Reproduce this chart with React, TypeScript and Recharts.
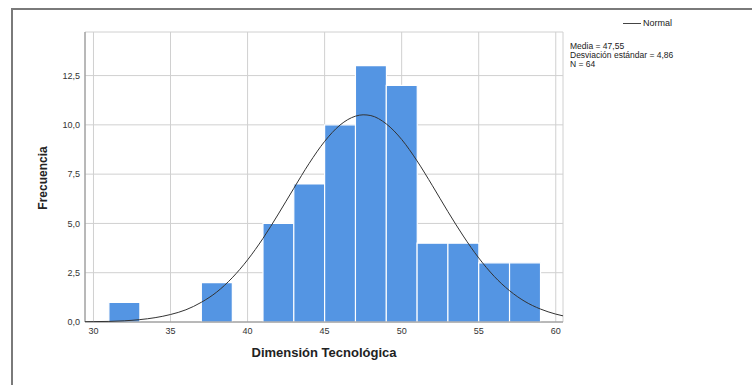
import { ComposedChart, LineChart, Bar, Line, XAxis, YAxis, CartesianGrid } from 'recharts';

// Histogram bins (width 2) – centre of each bin and its count
const binCenters = [32, 38, 42, 44, 46, 48, 50, 52, 54, 56, 58];
const frequencies = [1, 2, 5, 7, 10, 13, 12, 4, 4, 3, 3];

// Normal curve
const curveX = [29, 30, 31, 32, 33, 34, 35, 36, 37, 38, 39, 40, 41, 42, 43, 44, 45, 46, 47, 47.5, 48, 49, 50, 51, 52, 53, 54, 55, 56, 57, 58, 59, 60, 61];
const curveY = [0.01, 0.02, 0.03, 0.06, 0.12, 0.22, 0.38, 0.62, 1.0, 1.52, 2.24, 3.15, 4.24, 5.48, 6.78, 8.05, 9.16, 9.99, 10.44, 10.51, 10.47, 10.05, 9.26, 8.17, 6.91, 5.6, 4.36, 3.25, 2.32, 1.59, 1.04, 0.66, 0.4, 0.23];

const xTicks = [30, 35, 40, 45, 50, 55, 60];
const yTicks = [0, 2.5, 5, 7.5, 10, 12.5];

const statsLines = ['Media = 47,55', 'Desviación estándar = 4,86', 'N = 64'];

const histogramData = binCenters.map((x, i) => ({ x, freq: frequencies[i] }));
const normalData = curveX.map((x, i) => ({ x, normal: curveY[i] }));

const X_DOMAIN: [number, number] = [29.45, 60.47];
const Y_DOMAIN: [number, number] = [0, 14.71];

const FONT = 'Arial, "Liberation Sans", Helvetica, sans-serif';
const tickStyle = { fontSize: 9, fill: '#333', fontFamily: FONT };

export default function App() {
  return (
    <div style={{ position: 'absolute', left: 0, top: 0, width: 752, height: 385, background: '#fff', fontFamily: FONT }}>
      {/* outer frame */}
      <div style={{ position: 'absolute', left: 11, top: 8, width: 741, height: 1.5, background: '#7a7a7a' }} />
      <div style={{ position: 'absolute', left: 11, top: 8, width: 1.5, height: 377, background: '#7a7a7a' }} />

      {/* histogram */}
      <div style={{ position: 'absolute', left: 0, top: 0 }}>
        <ComposedChart
          width={752}
          height={385}
          data={histogramData}
          margin={{ top: 32, right: 189, bottom: 33, left: 30 }}
          barCategoryGap={0}
        >
          <CartesianGrid stroke="#d0d0d0" strokeWidth={1} />
          <XAxis
            dataKey="x"
            type="number"
            domain={X_DOMAIN}
            allowDataOverflow
            ticks={xTicks}
            interval={0}
            height={30}
            tickLine={false}
            tickSize={0}
            tickMargin={6}
            stroke="#8a8a8a"
            tick={tickStyle}
          />
          <YAxis
            type="number"
            domain={Y_DOMAIN}
            allowDataOverflow
            ticks={yTicks}
            interval={0}
            width={55}
            tickLine={false}
            tickSize={0}
            tickMargin={5}
            stroke="#8a8a8a"
            tick={tickStyle}
            tickFormatter={(v: number) => v.toFixed(1).replace('.', ',')}
          />
          <Bar
            dataKey="freq"
            fill="#5495e3"
            stroke="#ffffff"
            strokeWidth={1.2}
            isAnimationActive={false}
          />
        </ComposedChart>
      </div>

      {/* normal curve, same plot area */}
      <div style={{ position: 'absolute', left: 0, top: 0 }}>
        <LineChart
          width={752}
          height={385}
          data={normalData}
          margin={{ top: 32, right: 189, bottom: 63, left: 85 }}
        >
          <XAxis dataKey="x" type="number" domain={X_DOMAIN} allowDataOverflow hide />
          <YAxis type="number" domain={Y_DOMAIN} allowDataOverflow hide />
          <Line
            dataKey="normal"
            type="monotone"
            stroke="#333"
            strokeWidth={1}
            dot={false}
            activeDot={false}
            isAnimationActive={false}
          />
        </LineChart>
      </div>

      {/* axis titles */}
      <div
        style={{
          position: 'absolute', left: 43, top: 178, transform: 'translate(-50%, -50%) rotate(-90deg)',
          fontSize: 12, fontWeight: 'bold', color: '#222', whiteSpace: 'nowrap',
        }}
      >
        Frecuencia
      </div>
      <div
        style={{
          position: 'absolute', left: 324, top: 352, transform: 'translate(-50%, -50%)',
          fontSize: 13, fontWeight: 'bold', color: '#222', whiteSpace: 'nowrap',
        }}
      >
        Dimensión Tecnológica
      </div>

      {/* legend */}
      <div style={{ position: 'absolute', left: 623, top: 22.5, width: 18, height: 1.2, background: '#444' }} />
      <div style={{ position: 'absolute', left: 643, top: 17, fontSize: 9, color: '#222', lineHeight: '12px' }}>Normal</div>

      {/* statistics */}
      <div style={{ position: 'absolute', left: 570, top: 42, fontSize: 8.5, color: '#222', lineHeight: '9px', whiteSpace: 'nowrap' }}>
        {statsLines.map((s) => (
          <div key={s}>{s}</div>
        ))}
      </div>
    </div>
  );
}
